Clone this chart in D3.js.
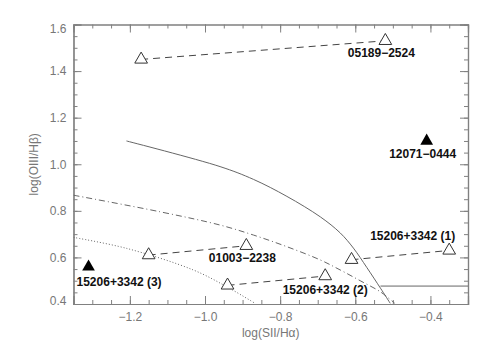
<!DOCTYPE html>
<html>
<head>
<meta charset="utf-8">
<script src="https://cdn.jsdelivr.net/npm/d3@7"></script>
<style>
  body { margin: 0; background: #fff; }
  svg { display: block; }
  .tick-label { font-family: "Liberation Sans", Arial, sans-serif; font-size: 12px; fill: #777; }
  .name { font-family: "Liberation Sans", Arial, sans-serif; font-size: 12px; font-weight: bold; fill: #111; }
</style>
</head>
<body>
<svg id="chart" width="491" height="351"></svg>
<script>
// x = log(SII/Ha), y = log(OIII/Hb)
var openX = [-1.17, -0.52, -1.15, -0.89, -0.94, -0.68, -0.61, -0.35];
var openY = [1.45, 1.53, 0.61, 0.65, 0.48, 0.52, 0.59, 0.63];
var pairs = [[0, 1], [2, 3], [4, 5], [6, 7]];

var filledX = [-0.41, -1.31];
var filledY = [1.10, 0.56];

// labels: which marker they belong to
var labels = [
  { text: '05189\u22122524', set: 'open', i: 1 },
  { text: '01003\u22122238', set: 'open', i: 3 },
  { text: '15206+3342 (2)', set: 'open', i: 5 },
  { text: '15206+3342 (1)', set: 'open', i: 7 },
  { text: '12071\u22120444', set: 'filled', i: 0 },
  { text: '15206+3342 (3)', set: 'filled', i: 1 }
];

// demarcation curves
var solidX = [-1.209, -0.960, -0.871, -0.782, -0.693, -0.640, -0.605, -0.569, -0.533, -0.507];
var solidY = [1.100, 0.990, 0.935, 0.862, 0.774, 0.705, 0.640, 0.556, 0.468, 0.403];
var dashDotX = [-1.35, -1.12, -0.96, -0.871, -0.782, -0.693, -0.640, -0.587, -0.533, -0.495];
var dashDotY = [0.867, 0.796, 0.739, 0.696, 0.646, 0.589, 0.546, 0.500, 0.452, 0.403];
var dottedX = [-1.35, -1.209, -1.031, -0.942, -0.869];
var dottedY = [0.686, 0.639, 0.546, 0.474, 0.405];
var linerX = [-0.533, -0.30];
var linerY = [0.477, 0.477];

var xMajor = [-1.2, -1.0, -0.8, -0.6, -0.4];
var yMajor = [0.4, 0.6, 0.8, 1.0, 1.2, 1.4, 1.6];

var svg = d3.select('#chart');
var mLeft = 73.5, mRight = 468, mTop = 24.5, mBottom = 304;

var x = d3.scaleLinear().domain([-1.35, -0.30]).range([mLeft, mRight]);
var y = d3.scaleLinear().domain([0.4, 1.6]).range([mBottom, mTop]);

var axisColor = '#808080';

svg.append('defs').append('clipPath').attr('id', 'plot')
  .append('rect').attr('x', mLeft).attr('y', mTop).attr('width', mRight - mLeft).attr('height', mBottom - mTop);

// minor ticks every 0.05
var xMinor = d3.range(-1.30, -0.30, 0.05).map(function(v) { return +v.toFixed(2); });
var yMinor = d3.range(0.45, 1.6, 0.05).map(function(v) { return +v.toFixed(2); });

var fmt = function(v) { return d3.format('.1f')(v).replace('-', '\u2212'); };

var g = svg.append('g');

// bottom / top axes
g.append('g').attr('transform', 'translate(0,' + mBottom + ')')
  .call(d3.axisBottom(x).tickValues(xMinor).tickSize(-4).tickFormat(''));
g.append('g').attr('transform', 'translate(0,' + mBottom + ')')
  .call(d3.axisBottom(x).tickValues(xMajor).tickSize(-8).tickPadding(8).tickFormat(fmt));
g.append('g').attr('transform', 'translate(0,' + mTop + ')')
  .call(d3.axisTop(x).tickValues(xMinor).tickSize(-4).tickFormat(''));
g.append('g').attr('transform', 'translate(0,' + mTop + ')')
  .call(d3.axisTop(x).tickValues(xMajor).tickSize(-8).tickFormat(''));

// left / right axes
g.append('g').attr('transform', 'translate(' + mLeft + ',0)')
  .call(d3.axisLeft(y).tickValues(yMinor).tickSize(-4).tickFormat(''));
g.append('g').attr('transform', 'translate(' + mLeft + ',0)')
  .call(d3.axisLeft(y).tickValues(yMajor).tickSize(-8).tickPadding(7).tickFormat(d3.format('.1f')));
g.append('g').attr('transform', 'translate(' + mRight + ',0)')
  .call(d3.axisRight(y).tickValues(yMinor).tickSize(-4).tickFormat(''));
g.append('g').attr('transform', 'translate(' + mRight + ',0)')
  .call(d3.axisRight(y).tickValues(yMajor).tickSize(-8).tickFormat(''));

g.selectAll('.domain').attr('stroke', axisColor).attr('stroke-width', 1.2);
g.selectAll('.tick line').attr('stroke', axisColor);
g.selectAll('.tick text').attr('class', 'tick-label').attr('font-size', null).attr('font-family', null);

// end labels nudged inside like the original
g.selectAll('.tick text').filter(function(d) { return d === 1.6; }).attr('dy', '0.65em');
g.selectAll('.tick text').filter(function(d) { return d === 0.4; }).attr('dy', '0.0em');

// axis titles
svg.append('text').attr('class', 'tick-label')
  .attr('x', (mLeft + mRight) / 2).attr('y', 337).attr('text-anchor', 'middle')
  .text('log(SII/H\u03b1)');
svg.append('text').attr('class', 'tick-label')
  .attr('transform', 'translate(38,' + (mTop + mBottom) / 2 + ') rotate(-90)')
  .attr('text-anchor', 'middle')
  .text('log(OIII/H\u03b2)');

// curves
var line = d3.line().curve(d3.curveCatmullRom)
  .x(function(d) { return x(d[0]); }).y(function(d) { return y(d[1]); });
var plot = svg.append('g').attr('clip-path', 'url(#plot)');

function curve(xs, ys, dash, color) {
  plot.append('path')
    .attr('d', line(d3.zip(xs, ys)))
    .attr('fill', 'none')
    .attr('stroke', color)
    .attr('stroke-width', 1)
    .attr('stroke-dasharray', dash);
}
curve(solidX, solidY, null, '#666');
curve(dashDotX, dashDotY, '6,3,1,3', '#666');
curve(dottedX, dottedY, '1,2', '#666');
curve(linerX, linerY, null, '#666');

// dashed connectors
pairs.forEach(function(p) {
  svg.append('line')
    .attr('x1', x(openX[p[0]])).attr('y1', y(openY[p[0]]))
    .attr('x2', x(openX[p[1]])).attr('y2', y(openY[p[1]]))
    .attr('stroke', '#444').attr('stroke-dasharray', '7,5');
});

// markers
var tri = d3.symbol().type(d3.symbolTriangle).size(70);
svg.selectAll('.open').data(d3.zip(openX, openY)).enter().append('path')
  .attr('class', 'open')
  .attr('d', tri)
  .attr('transform', function(d) { return 'translate(' + x(d[0]) + ',' + y(d[1]) + ')'; })
  .attr('fill', '#fff').attr('stroke', '#333').attr('stroke-width', 1);
svg.selectAll('.filled').data(d3.zip(filledX, filledY)).enter().append('path')
  .attr('class', 'filled')
  .attr('d', tri)
  .attr('transform', function(d) { return 'translate(' + x(d[0]) + ',' + y(d[1]) + ')'; })
  .attr('fill', '#000');

// label placement relative to its marker
var offsets = [[-4, 16, 'middle'], [-4, 16, 'middle'], [0, 18, 'middle'], [6, -10, 'end'],
               [-4, 17, 'middle'], [-12, 19, 'start']];
labels.forEach(function(l, k) {
  var px = l.set === 'open' ? openX[l.i] : filledX[l.i];
  var py = l.set === 'open' ? openY[l.i] : filledY[l.i];
  svg.append('text').attr('class', 'name')
    .attr('x', x(px) + offsets[k][0]).attr('y', y(py) + offsets[k][1])
    .attr('text-anchor', offsets[k][2])
    .text(l.text);
});
</script>
</body>
</html>
